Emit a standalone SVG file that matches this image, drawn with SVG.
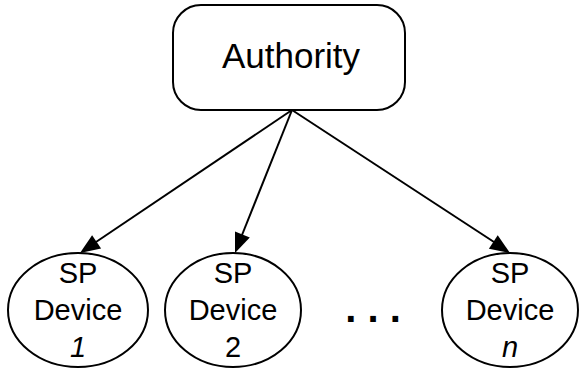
<svg xmlns="http://www.w3.org/2000/svg" width="579" height="372" viewBox="0 0 579 372">
<style>
.shape{fill:#fff;stroke:#000;stroke-width:2}
.t{font-family:"Liberation Sans",Arial,sans-serif;fill:#000;text-anchor:middle}
.lbl{font-size:29px}
.it{font-style:italic}
.edge{stroke:#000;stroke-width:2;fill:none}
.head{fill:#000}
</style>
<rect width="579" height="372" fill="#fff"/>
<g id="connectors">
<line class="edge" x1="292" y1="110" x2="96" y2="242"/>
<polygon class="head" points="80,253 101.1,248.4 92.1,235.2"/>
<line class="edge" x1="292" y1="110" x2="242" y2="235"/>
<polygon class="head" points="235,253 249.8,237.4 235,231.4"/>
<line class="edge" x1="292" y1="110" x2="494" y2="242"/>
<polygon class="head" points="510,253 488.9,248.7 497.7,235.3"/>
</g>
<g id="authority">
<rect class="shape" x="173" y="5" width="232" height="105" rx="28" ry="28"/>
<text class="t" x="291" y="68" font-size="35">Authority</text>
</g>
<g id="device1">
<ellipse class="shape" cx="78" cy="310" rx="70" ry="57"/>
<text class="t lbl" x="78" y="283">SP</text>
<text class="t lbl" x="78" y="320">Device</text>
<text class="t lbl it" x="78" y="357">1</text>
</g>
<g id="device2">
<ellipse class="shape" cx="233" cy="310" rx="68" ry="57"/>
<text class="t lbl" x="233" y="283">SP</text>
<text class="t lbl" x="233" y="320">Device</text>
<text class="t lbl" x="233" y="357">2</text>
</g>
<g id="ellipsis">
<text class="t" x="373" y="322" font-size="40" font-weight="bold">. . .</text>
</g>
<g id="devicen">
<ellipse class="shape" cx="510" cy="310" rx="68" ry="57"/>
<text class="t lbl" x="510" y="283">SP</text>
<text class="t lbl" x="510" y="320">Device</text>
<text class="t lbl it" x="510" y="357">n</text>
</g>
</svg>
